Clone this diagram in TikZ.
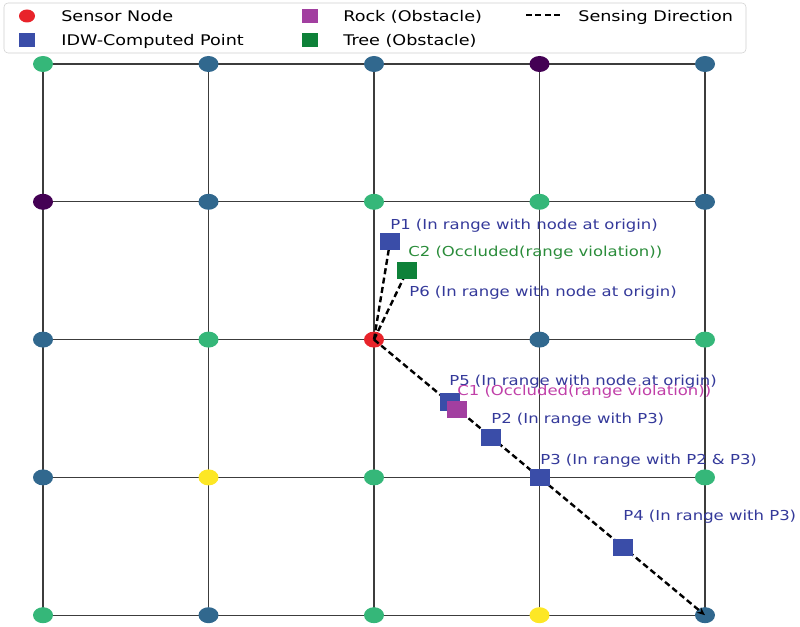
\documentclass[tikz,border=0pt]{standalone}
\usepackage{fontspec}
\setmainfont{DejaVu Sans}
\usetikzlibrary{arrows.meta,shapes.geometric}
\definecolor{vG}{HTML}{35B779}
\definecolor{vB}{HTML}{31688E}
\definecolor{vP}{HTML}{440154}
\definecolor{vY}{HTML}{FDE725}
\definecolor{sensorred}{HTML}{E8232A}
\definecolor{idwblue}{HTML}{3A4DA8}
\definecolor{rockmag}{HTML}{A23FA0}
\definecolor{treegreen}{HTML}{0E8139}
\definecolor{labelblue}{HTML}{34399A}
\definecolor{labelmag}{HTML}{C03FA8}
\definecolor{labelgreen}{HTML}{2A8C3A}
\definecolor{gridgray}{HTML}{3C3C3C}
\definecolor{legendgray}{HTML}{D0D0D0}
\tikzstyle{gridline} = [draw=gridgray, line width=0.9pt]
\tikzstyle{dot} = [ellipse, minimum width=15pt, minimum height=12pt, inner sep=0pt]
\tikzstyle{sensor} = [dot, fill=sensorred]
\tikzstyle{marker} = [rectangle, minimum width=15pt, minimum height=12.75pt, inner sep=0pt]
\tikzstyle{idw} = [marker, fill=idwblue]
\tikzstyle{rock} = [marker, fill=rockmag]
\tikzstyle{tree} = [marker, fill=treegreen]
\tikzstyle{sensing} = [draw, dash pattern=on 4.5pt off 2.6pt, line width=1.8pt]
\tikzstyle{lbl} = [anchor=base west, inner sep=0pt, xscale=1.2, font=\fontsize{10.3}{12}\selectfont]
\tikzstyle{legtext} = [anchor=base west, inner sep=0pt, xscale=1.2, font=\fontsize{11}{13}\selectfont]

\begin{document}
\begin{tikzpicture}[x=0.75pt,y=-0.75pt]
    \useasboundingbox (0,0) rectangle (800,627);
    % Grid
    \foreach \i in {0,...,4}
        \foreach \j in {0,...,4}
            \coordinate (g-\i-\j) at ({43+165.5*\i},{64+137.8*\j});
    \foreach \k in {0,...,4} {
        \draw[gridline] (g-0-\k) -- (g-4-\k);
        \draw[gridline] (g-\k-0) -- (g-\k-4);
    }
    \foreach \c [count=\n from 0] in {vG,vB,vB,vP,vB, vP,vB,vG,vG,vB, vB,vG,none,vB,vG, vB,vY,vG,none,vG, vG,vB,vG,vY,vB} {
        \pgfmathtruncatemacro\i{mod(\n,5)}
        \pgfmathtruncatemacro\j{\n/5}
        \node[dot, fill=\c] (d-\i-\j) at (g-\i-\j) {};
    }
    % Place nodes
    \node[sensor] (s) at (g-2-2) {};
    \coordinate (p1) at (390,242);
    \coordinate (c2) at (407,271);
    % Draw edges
    \draw[sensing] (s.center) -- (p1);
    \draw[sensing] (s.center) -- (c2);
    \draw[sensing, -{Stealth[length=6pt,width=5pt]}] (s.center) -- (g-4-4);
    \node[idw] (P1) at (p1) {};
    \node[tree] (C2) at (c2) {};
    \node[idw] (P5) at (450,402) {};
    \node[rock] (C1) at (457,409) {};
    \node[idw] (P2) at (491,437) {};
    \node[idw] (P3) at (g-3-3) {};
    \node[idw] (P4) at (623,547) {};
    % Labels
    \node[lbl, text=labelblue] (lp1) at (390,230) {P1 (In range with node at origin)};
    \node[lbl, text=labelgreen] (lc2) at (408,257) {C2 (Occluded(range violation))};
    \node[lbl, text=labelblue] (lp6) at (409,297) {P6 (In range with node at origin)};
    \node[lbl, text=labelblue] (lp5) at (449,385) {P5 (In range with node at origin)};
    \node[lbl, text=labelmag] (lc1) at (457,396) {C1 (Occluded(range violation))};
    \node[lbl, text=labelblue] (lp2) at (491,423) {P2 (In range with P3)};
    \node[lbl, text=labelblue] (lp3) at (540,464) {P3 (In range with P2 \& P3)};
    \node[lbl, text=labelblue] (lp4) at (623,520) {P4 (In range with P3)};
    % Legend
    \draw[draw=legendgray, fill=white, rounded corners=3pt] (4,3) rectangle (746,53);
    \node[ellipse, fill=sensorred, minimum width=12pt, minimum height=9.75pt, inner sep=0pt] (ls) at (27,16) {};
    \node[rectangle, fill=idwblue, minimum width=12pt, minimum height=10.5pt, inner sep=0pt] (li) at (27,40) {};
    \node[rectangle, fill=rockmag, minimum width=12pt, minimum height=10.5pt, inner sep=0pt] (lr) at (310,16) {};
    \node[rectangle, fill=treegreen, minimum width=12pt, minimum height=10.5pt, inner sep=0pt] (lt) at (310,40) {};
    \coordinate (ld1) at (526,15);
    \coordinate (ld2) at (563,15);
    \draw[sensing] (ld1) -- (ld2);
    \node[legtext] (tls) at (61,22) {Sensor Node};
    \node[legtext] (tli) at (61,46) {IDW-Computed Point};
    \node[legtext] (tlr) at (343,22) {Rock (Obstacle)};
    \node[legtext] (tlt) at (343,46) {Tree (Obstacle)};
    \node[legtext] (tld) at (578,22) {Sensing Direction};
\end{tikzpicture}
\end{document}
